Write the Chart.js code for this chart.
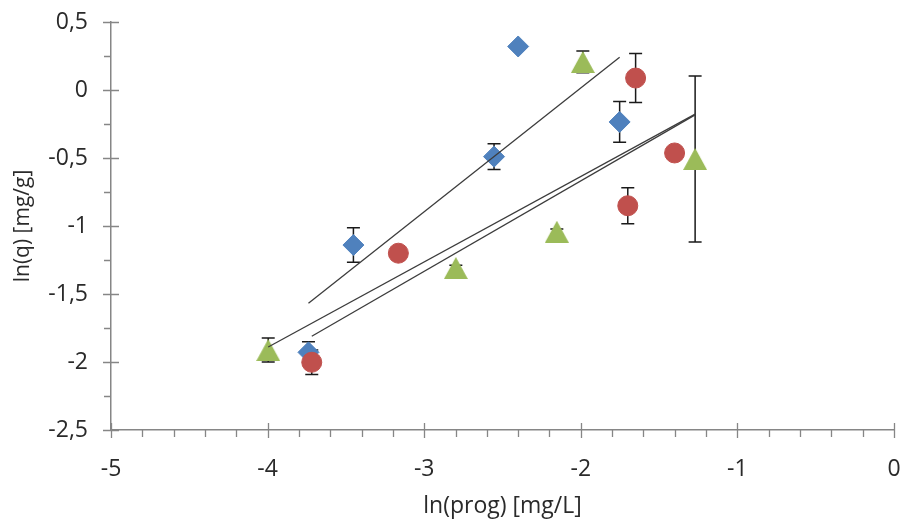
<!DOCTYPE html>
<html>
<head>
<meta charset="utf-8">
<script src="https://cdn.jsdelivr.net/npm/chart.js@4/dist/chart.umd.min.js"></script>
<style>
    html, body { margin: 0; padding: 0; background: #ffffff; }
    #wrap { width: 906px; height: 521px; position: relative; }
</style>
</head>
<body>
<div id="wrap"><canvas id="isoChart"></canvas></div>
<script>
// Series values: ln(prog) vs ln(q), with +/- error
const blueX = [-2.40, -2.554, -1.752, -3.452, -3.739];
const blueY = [0.32, -0.49, -0.235, -1.14, -1.929];
const blueErr = [0.015, 0.095, 0.15, 0.127, 0.077];

const redX = [-1.65, -1.401, -1.70, -3.165, -3.718];
const redY = [0.088, -0.463, -0.851, -1.20, -2.002];
const redErr = [0.18, 0, 0.132, 0, 0.09];

const greenX = [-3.996, -2.798, -2.153, -1.987, -1.27];
const greenY = [-1.912, -1.309, -1.042, 0.206, -0.507];
const greenErr = [0.088, 0.02, 0.02, 0.08, 0.61];

// x span of each linear trendline [from, to]
const blueTrendSpan = [-3.739, -1.752];
const redTrendSpan = [-3.718, -1.27];
const greenTrendSpan = [-3.996, -1.27];

// axis ranges
const xTicks = [-5, -4, -3, -2, -1, 0];
const yTicks = [0.5, 0, -0.5, -1, -1.5, -2, -2.5];

const BLUE = '#4F81BD';
const RED = '#C0504D';
const GREEN = '#9BBB59';
const AXIS = '#868686';
const TEXT = '#2a2a2a';

function toPoints(xs, ys) {
    return xs.map((x, i) => ({ x: x, y: ys[i] }));
}

// least squares fit, returned as two end points over the given span
function trendLine(xs, ys, span) {
    const n = xs.length;
    const mx = xs.reduce((a, b) => a + b, 0) / n;
    const my = ys.reduce((a, b) => a + b, 0) / n;
    let sxy = 0, sxx = 0;
    for (let i = 0; i < n; i++) {
        sxy += (xs[i] - mx) * (ys[i] - my);
        sxx += (xs[i] - mx) * (xs[i] - mx);
    }
    const slope = sxy / sxx;
    const icpt = my - slope * mx;
    return span.map(x => ({ x: x, y: icpt + slope * x }));
}

// Excel style triangle marker, centred on its bounding box
function triangleMarker(w, h, color) {
    const c = document.createElement('canvas');
    c.width = w;
    c.height = h;
    const g = c.getContext('2d');
    g.fillStyle = color;
    g.beginPath();
    g.moveTo(w / 2, 0);
    g.lineTo(w, h);
    g.lineTo(0, h);
    g.closePath();
    g.fill();
    return c;
}

const commaNum = v => String(v).replace('.', ',');

// keep the plot area fixed: no extra room for edge labels
function fixBox(s, size) {
    if (s.isHorizontal()) s.height = size; else s.width = size;
    s.paddingLeft = 0;
    s.paddingRight = 0;
    s.paddingTop = 0;
    s.paddingBottom = 0;
}

// vertical error bars with caps, drawn under the markers
const errorBarPlugin = {
    id: 'errorBars',
    beforeDatasetsDraw(chart) {
        const { ctx, scales: { x, y } } = chart;
        ctx.save();
        ctx.strokeStyle = '#1a1a1a';
        ctx.lineWidth = 1.5;
        chart.data.datasets.forEach(ds => {
            if (!ds.errors) return;
            ds.data.forEach((p, i) => {
                const e = ds.errors[i];
                if (!e) return;
                const px = x.getPixelForValue(p.x);
                const top = y.getPixelForValue(p.y + e);
                const bot = y.getPixelForValue(p.y - e);
                ctx.beginPath();
                ctx.moveTo(px, top);
                ctx.lineTo(px, bot);
                ctx.moveTo(px - 6.5, top);
                ctx.lineTo(px + 6.5, top);
                ctx.moveTo(px - 6.5, bot);
                ctx.lineTo(px + 6.5, bot);
                ctx.stroke();
            });
        });
        ctx.restore();
    }
};

// major (crossing) and minor (outside) tick marks on both axes
const tickMarkPlugin = {
    id: 'tickMarks',
    afterDraw(chart) {
        const { ctx, scales: { x, y }, chartArea } = chart;
        ctx.save();
        ctx.strokeStyle = AXIS;
        ctx.lineWidth = 1.3;
        ctx.beginPath();
        const xb = chartArea.bottom;
        for (let i = 0; i < xTicks.length - 1; i++) {
            for (let k = 0; k < 5; k++) {
                const v = xTicks[i] + k * 0.2;
                const px = Math.round(x.getPixelForValue(v)) + 0.5;
                if (k === 0) {
                    ctx.moveTo(px, xb - 7);
                    ctx.lineTo(px, xb + 8);
                } else {
                    ctx.moveTo(px, xb);
                    ctx.lineTo(px, xb + 7);
                }
            }
        }
        const lastX = Math.round(x.getPixelForValue(xTicks[xTicks.length - 1])) + 0.5;
        ctx.moveTo(lastX, xb - 7);
        ctx.lineTo(lastX, xb + 8);

        const yl = chartArea.left;
        for (let i = 0; i < yTicks.length; i++) {
            const py = Math.round(y.getPixelForValue(yTicks[i])) + 0.5;
            ctx.moveTo(yl - 8, py);
            ctx.lineTo(yl + 8, py);
            if (i < yTicks.length - 1) {
                const pm = Math.round(y.getPixelForValue(yTicks[i] - 0.25)) + 0.5;
                ctx.moveTo(yl - 7, pm);
                ctx.lineTo(yl, pm);
            }
        }
        ctx.stroke();
        ctx.restore();
    }
};

const tickFont = { family: "'Open Sans', sans-serif", size: 23 };

new Chart(document.getElementById('isoChart'), {
    type: 'scatter',
    data: {
        datasets: [
            {
                label: 'trend blue',
                data: trendLine(blueX, blueY, blueTrendSpan),
                showLine: true, borderColor: '#3c3c3c', borderWidth: 1.3,
                pointRadius: 0, order: 0
            },
            {
                label: 'trend red',
                data: trendLine(redX, redY, redTrendSpan),
                showLine: true, borderColor: '#3c3c3c', borderWidth: 1.3,
                pointRadius: 0, order: 0
            },
            {
                label: 'trend green',
                data: trendLine(greenX, greenY, greenTrendSpan),
                showLine: true, borderColor: '#3c3c3c', borderWidth: 1.3,
                pointRadius: 0, order: 0
            },
            {
                label: 'green',
                data: toPoints(greenX, greenY),
                errors: greenErr,
                pointStyle: triangleMarker(24, 22, GREEN),
                pointRadius: 11, order: 1
            },
            {
                label: 'red',
                data: toPoints(redX, redY),
                errors: redErr,
                pointStyle: 'circle', pointRadius: 10,
                backgroundColor: RED, borderColor: RED, borderWidth: 1,
                order: 2
            },
            {
                label: 'blue',
                data: toPoints(blueX, blueY),
                errors: blueErr,
                pointStyle: 'rectRot', pointRadius: 10.5,
                backgroundColor: BLUE, borderColor: BLUE, borderWidth: 1,
                order: 3
            }
        ]
    },
    options: {
        responsive: true,
        maintainAspectRatio: false,
        animation: false,
        events: [],
        layout: { padding: { top: 22, right: 10, left: 0, bottom: 0 } },
        plugins: {
            legend: { display: false },
            tooltip: { enabled: false }
        },
        scales: {
            x: {
                type: 'linear',
                min: xTicks[0],
                max: xTicks[xTicks.length - 1],
                afterFit: s => fixBox(s, 91),
                ticks: { stepSize: 1, padding: 26, color: TEXT, font: tickFont, callback: v => commaNum(v) },
                grid: { display: true, drawOnChartArea: false, drawTicks: false },
                border: { display: true, color: AXIS, width: 1.5 },
                title: {
                    display: true, text: 'ln(prog) [mg/L]', color: TEXT,
                    font: { family: "'Open Sans', sans-serif", size: 23, lineHeight: 1.2 },
                    padding: { top: 0, bottom: 1 }
                }
            },
            y: {
                type: 'linear',
                min: yTicks[yTicks.length - 1],
                max: yTicks[0],
                afterFit: s => fixBox(s, 111),
                ticks: { stepSize: 0.5, padding: 23, color: TEXT, font: tickFont, callback: v => commaNum(v) },
                grid: { display: true, drawOnChartArea: false, drawTicks: false },
                border: { display: true, color: AXIS, width: 1.5 },
                title: {
                    display: true, text: 'ln(q) [mg/g]', color: TEXT,
                    font: { family: "'Open Sans', sans-serif", size: 21, lineHeight: 1.2 },
                    padding: { top: 10, bottom: 0 }
                }
            }
        }
    },
    plugins: [errorBarPlugin, tickMarkPlugin]
});
</script>
</body>
</html>
